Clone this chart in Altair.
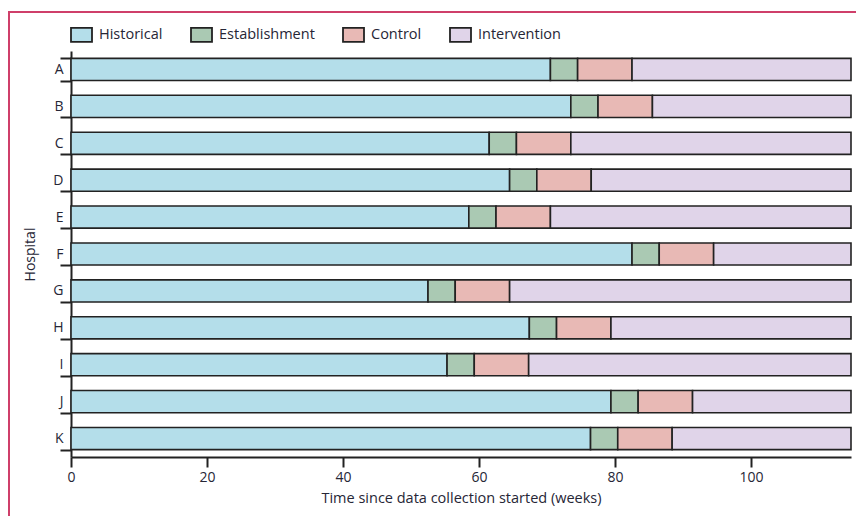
import altair as alt
import pandas as pd

# Weeks spent in each study phase, per hospital
hospitals = ["A", "B", "C", "D", "E", "F", "G", "H", "I", "J", "K"]
historical = [70.5, 73.5, 61.5, 64.5, 58.5, 82.5, 52.5, 67.4, 55.3, 79.4, 76.4]
establishment = [4, 4, 4, 4, 4, 4, 4, 4, 4, 4, 4]
control = [8, 8, 8, 8, 8, 8, 8, 8, 8, 8, 8]
intervention = [32.2, 29.2, 41.2, 38.2, 44.2, 20.2, 50.2, 35.3, 47.4, 23.3, 26.3]

phases = ["Historical", "Establishment", "Control", "Intervention"]
phase_colors = ["#b4deea", "#aac9b3", "#e8b9b5", "#e0d4e9"]
x_ticks = [0, 20, 40, 60, 80, 100]

TEXT = "#262636"
INK = "#222222"
FRAME = "#cf3f6a"
FONT = "Open Sans"

rows = []
for i, h in enumerate(hospitals):
    start = 0.0
    for phase, dur in zip(phases, (historical[i], establishment[i], control[i], intervention[i])):
        rows.append({"hospital": h, "phase": phase, "start": start, "end": start + dur})
        start += dur
df = pd.DataFrame(rows)

bars = alt.Chart(df).mark_bar(stroke=INK, strokeWidth=1.6).encode(
    y=alt.Y(
        "hospital:N",
        sort=hospitals,
        title="Hospital",
        scale=alt.Scale(paddingInner=0.4, paddingOuter=0.2),
        axis=alt.Axis(
            tickBand="extent",
            tickSize=11,
            tickWidth=2,
            tickColor=INK,
            domainColor=INK,
            domainWidth=2,
            labelPadding=-3,
            labelFontSize=14,
            labelFontWeight=500,
            labelColor=TEXT,
            titleFontSize=14,
            titleFontWeight=500,
            titleColor=TEXT,
            titlePadding=15,
        ),
    ),
    x=alt.X(
        "start:Q",
        title="Time since data collection started (weeks)",
        scale=alt.Scale(domain=[0, 114.7], nice=False, zero=True),
        axis=alt.Axis(
            values=x_ticks,
            grid=False,
            labelFlush=False,
            tickSize=10,
            tickWidth=2,
            tickColor=INK,
            domainColor=INK,
            domainWidth=2,
            labelPadding=3,
            labelFontSize=14,
            labelFontWeight=500,
            labelColor=TEXT,
            titleFontSize=14.5,
            titleFontWeight=500,
            titleColor=TEXT,
            titlePadding=7,
        ),
    ),
    x2="end:Q",
    fill=alt.Fill(
        "phase:N",
        sort=phases,
        scale=alt.Scale(domain=phases, range=phase_colors),
        legend=alt.Legend(
            title=None,
            orient="none",
            direction="horizontal",
            legendX=-1,
            legendY=-28,
            padding=0,
            symbolType="M-1,-0.667L1,-0.667L1,0.667L-1,0.667Z",
            symbolSize=441,
            symbolStrokeColor=INK,
            symbolStrokeWidth=1.8,
            symbolOpacity=1,
            labelFontSize=14.5,
            labelFontWeight=500,
            labelColor=TEXT,
            labelOffset=6,
            columnPadding=24,
        ),
    ),
)

# Page frame lines along the top and left edges
frame_src = alt.Data(values=[{"k": 0}])
frame_top = alt.Chart(frame_src).mark_rule(color=FRAME, strokeWidth=2).encode(
    x=alt.value(-63), x2=alt.value(820), y=alt.value(-39)
)
frame_left = alt.Chart(frame_src).mark_rule(color=FRAME, strokeWidth=2).encode(
    x=alt.value(-62), y=alt.value(-40), y2=alt.value(480)
)

chart = alt.layer(bars, frame_top, frame_left).properties(
    width=780,
    height=406,
    autosize=alt.AutoSizeParams(type="none"),
    padding={"left": 71, "top": 51, "right": 5, "bottom": 59},
).configure(
    font=FONT,
    background="white",
).configure_view(stroke=None)

chart.save("out.html", embed_options={"renderer": "svg", "actions": False})
